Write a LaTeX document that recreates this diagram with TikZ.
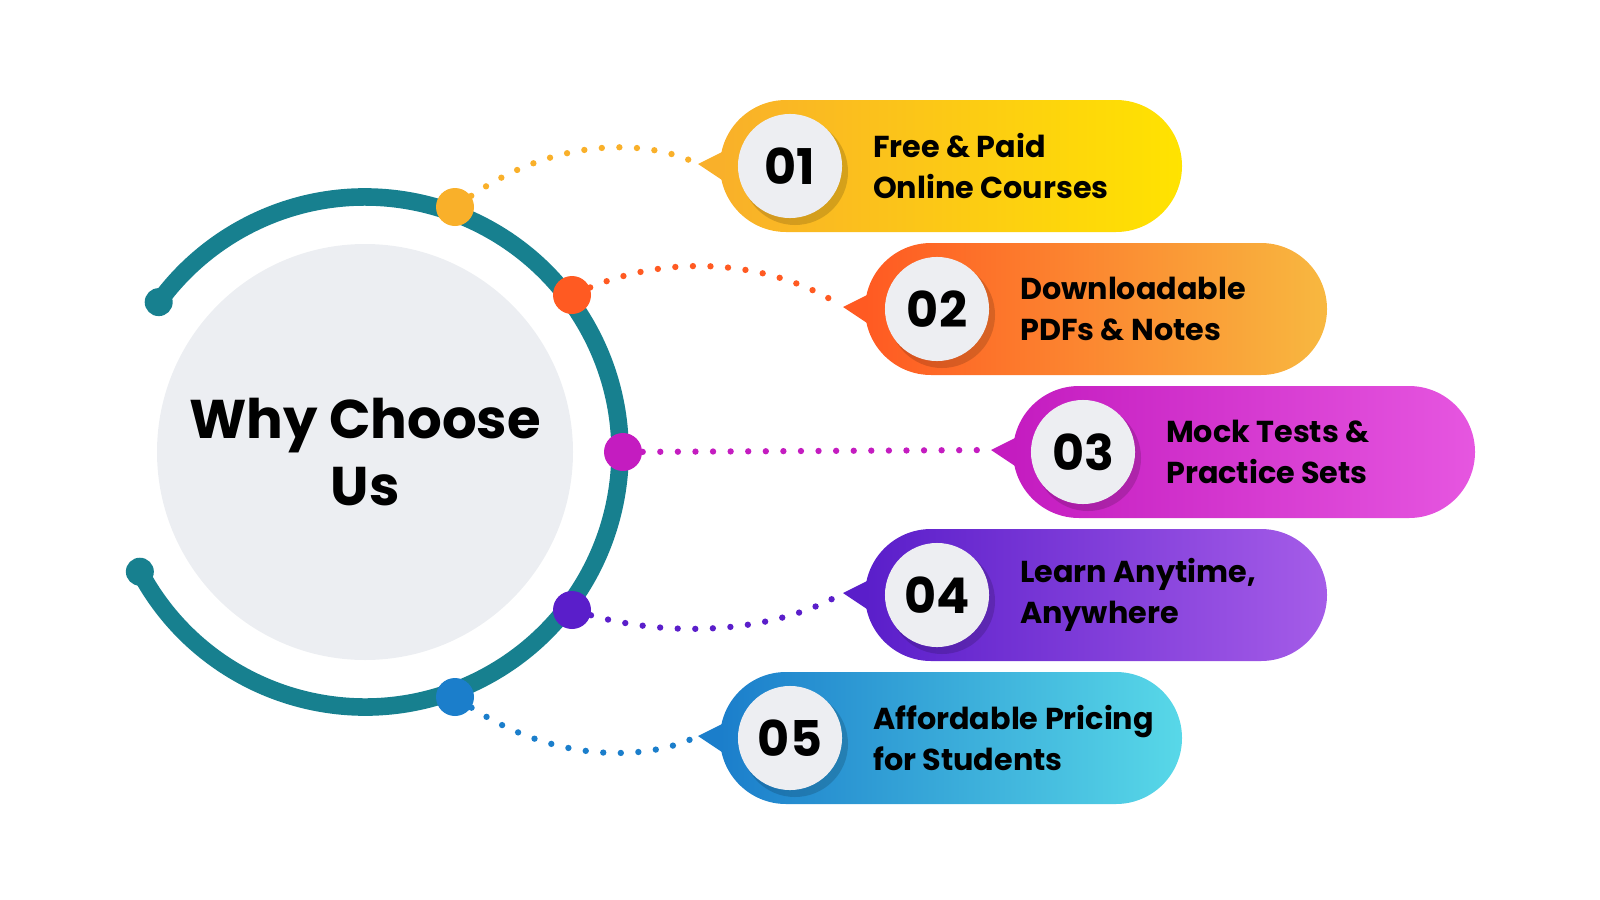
\documentclass[tikz,border=0pt]{standalone}
\usepackage{fontspec}
\setmainfont{Poppins}
\usetikzlibrary{positioning}
\definecolor{ring}{HTML}{17808F}
\definecolor{disc}{HTML}{ECEEF2}
\definecolor{numdisc}{HTML}{EDEEF2}
\definecolor{aL}{HTML}{F9B02A}\definecolor{aR}{HTML}{FFE300}
\definecolor{bL}{HTML}{FF5A22}\definecolor{bR}{HTML}{F8B840}
\definecolor{cL}{HTML}{C41CC0}\definecolor{cR}{HTML}{E656E0}
\definecolor{dL}{HTML}{5A1ECA}\definecolor{dR}{HTML}{A55CE8}
\definecolor{eL}{HTML}{1B7ECB}\definecolor{eR}{HTML}{58D8E8}
\begin{document}
\begin{tikzpicture}[x=0.01cm,y=-0.01cm,
  dot/.style={circle,inner sep=0pt,minimum size=0.38cm},
  numdot/.style={circle,fill=numdisc,inner sep=0pt,minimum size=1.04cm,font=\bfseries\fontsize{14}{14}\selectfont},
  itemtext/.style={align=left,anchor=west,font=\bfseries\fontsize{8.6}{11.5}\selectfont},
  link/.style={line width=1.8pt,dash pattern=on 0pt off 5pt,line cap=round}]
  \useasboundingbox (0,0) rectangle (1600,900);

  % center
  \fill[disc] (365,452) circle (208);
  \node[font=\bfseries\fontsize{15.5}{19}\selectfont,align=center] (title) at (365,452) {Why Choose\\Us};
  \draw[ring,line width=5pt] (365,452) ++(152:255) arc[start angle=152,end angle=-144,radius=255];
  \fill[ring] (365,452) ++(152:255) circle (14);
  \fill[ring] (365,452) ++(-144:255) circle (14);

  % items
  \foreach \i/\px/\py/\nx/\ax/\ay/\colL/\colR/\num/\txt in {
     1/720/166/790/455/207/aL/aR/01/{Free \& Paid\\Online Courses},
     2/865/309/937/572/295/bL/bR/02/{Downloadable\\PDFs \& Notes},
     3/1013/452/1083/623/452/cL/cR/03/{Mock Tests \&\\Practice Sets},
     4/865/595/937/572/610/dL/dR/04/{Learn Anytime,\\Anywhere},
     5/720/738/790/455/697/eL/eR/05/{Affordable Pricing\\for Students}} {
    \shade[left color=\colL,right color=\colR,rounded corners=0.66cm] (\px,\py+66) rectangle ++(462,-132);
    \fill[\colL] (\px+2,\py-14) -- (\px-22,\py-2) -- (\px+2,\py+14) -- cycle;
    \coordinate (tip\i) at (\px-22,\py-2);
    \fill[black,opacity=0.15] (\nx+5,\py+6) circle (53);
    \node[numdot] (num\i) at (\nx,\py) {\num};
    \node[itemtext,right=0.18cm of num\i] (txt\i) {\txt};
    \fill[\colL] (\ax,\ay) circle (19);
    \node[dot] (dot\i) at (\ax,\ay) {};
  }

  % dotted links
  \draw[link,aL] (dot1) .. controls (560,135) and (650,140) .. (tip1);
  \draw[link,bL] (dot2) .. controls (680,250) and (780,265) .. (tip2);
  \draw[link,cL] (dot3) -- (tip3);
  \draw[link,dL] (dot4) .. controls (680,640) and (780,630) .. (tip4);
  \draw[link,eL] (dot5) .. controls (560,765) and (650,760) .. (tip5);
\end{tikzpicture}
\end{document}
